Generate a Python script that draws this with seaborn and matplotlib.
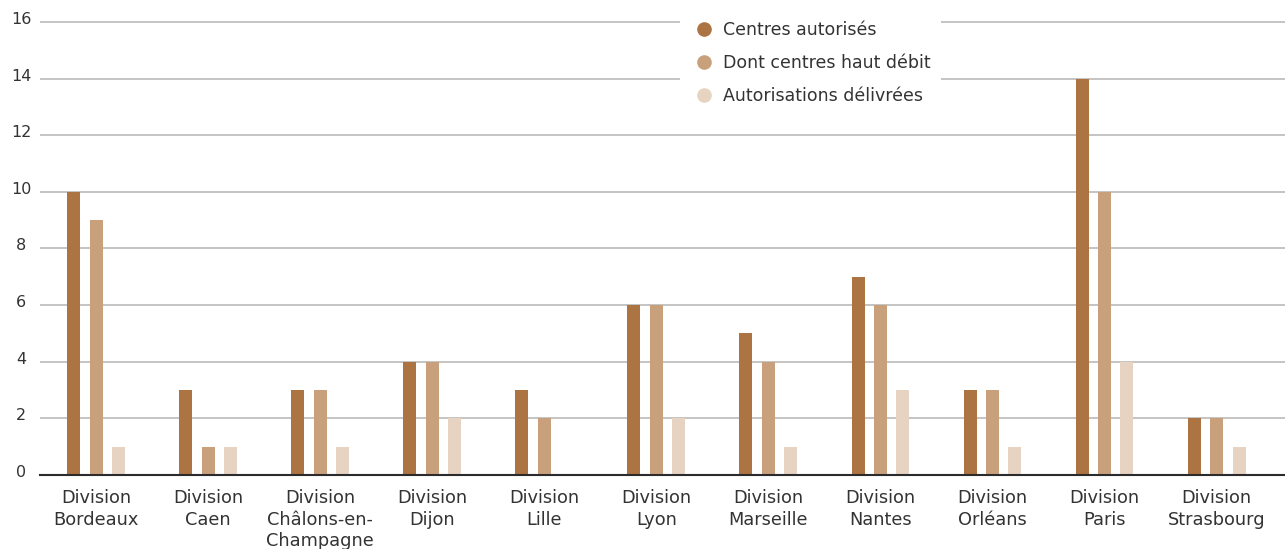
import matplotlib
matplotlib.use("Agg")
import matplotlib.pyplot as plt
from matplotlib.lines import Line2D
from matplotlib.transforms import ScaledTranslation
import seaborn as sns
import pandas as pd

divisions = [
    "Division\nBordeaux", "Division\nCaen", "Division\nChâlons-en-\nChampagne",
    "Division\nDijon", "Division\nLille", "Division\nLyon", "Division\nMarseille",
    "Division\nNantes", "Division\nOrléans", "Division\nParis", "Division\nStrasbourg",
]
centres_autorises = [10, 3, 3, 4, 3, 6, 5, 7, 3, 14, 2]
centres_haut_debit = [9, 1, 3, 4, 2, 6, 4, 6, 3, 10, 2]
autorisations_delivrees = [1, 1, 1, 2, 0, 2, 1, 3, 1, 4, 1]
series_names = ["Centres autorisés", "Dont centres haut débit", "Autorisations délivrées"]
colors = ["#AD7443", "#C9A07C", "#E7D3C2"]
yticks = [0, 2, 4, 6, 8, 10, 12, 14, 16]

df = pd.DataFrame({
    "division": divisions * 3,
    "serie": [series_names[0]] * 11 + [series_names[1]] * 11 + [series_names[2]] * 11,
    "valeur": centres_autorises + centres_haut_debit + autorisations_delivrees,
})

sns.set_theme(style="white")
plt.rcParams["font.family"] = ["DejaVu Sans"]
text_color = "#333333"

fig = plt.figure(figsize=(12.85, 5.49), dpi=100)
ax = fig.add_axes([40 / 1285, 74 / 549, 1 - 40 / 1285, (475 - 16.3) / 549])

sns.barplot(data=df, x="division", y="valeur", hue="serie", hue_order=series_names,
            palette=colors, width=0.6, gap=0.42, legend=False, ax=ax,
            saturation=1, linewidth=0, edgecolor="none", zorder=3)

# grid runs a little past the last group on the right
ax.set_xlim(-0.5, len(divisions) - 0.39)
ax.set_ylim(0, 16.2)
ax.set_yticks(yticks)
ax.yaxis.grid(True, color="#C4C4C4", linewidth=1.4, zorder=0)
ax.set_axisbelow(True)
for s in ["top", "right", "left"]:
    ax.spines[s].set_visible(False)
ax.spines["bottom"].set_color("#2b2b2b")
ax.spines["bottom"].set_linewidth(1.5)
ax.spines["bottom"].set_zorder(5)
ax.set_xlabel("")
ax.set_ylabel("")

ax.tick_params(axis="y", length=0, pad=13.5, labelsize=11.5, labelcolor=text_color)
ax.tick_params(axis="x", length=0, pad=10, labelsize=12.8, labelcolor=text_color)
for lab in ax.get_yticklabels():
    lab.set_horizontalalignment("center")
    lab.set_transform(lab.get_transform() + ScaledTranslation(0, 4 / 100, fig.dpi_scale_trans))
for lab in ax.get_xticklabels():
    lab.set_linespacing(1.27)

handles = [Line2D([0], [0], marker="o", linestyle="", markersize=9.5,
                  markerfacecolor=c, markeredgecolor=c) for c in colors]
leg = fig.legend(handles, series_names, loc="upper left",
                 bbox_to_anchor=(680 / 1285, 1 - 11 / 549), frameon=True,
                 facecolor="white", edgecolor="none", framealpha=1,
                 fontsize=12.5, labelcolor=text_color, handlelength=1.6,
                 handletextpad=0.3, labelspacing=0.85, borderpad=0.6,
                 borderaxespad=0)
leg.set_zorder(10)

fig.savefig("out.png", dpi=100)
